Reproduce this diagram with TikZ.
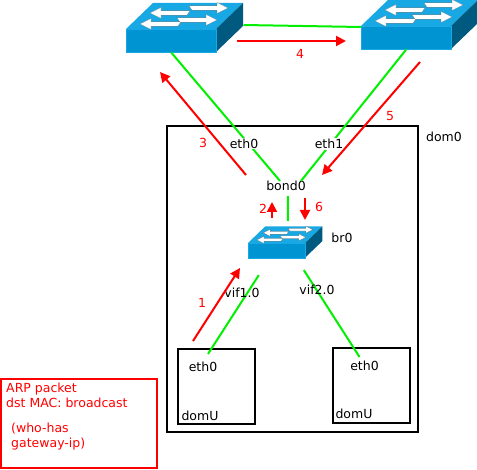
\documentclass[tikz,border=0pt]{standalone}
\usepackage{fontspec}
\setmainfont{DejaVu Sans}
\usetikzlibrary{arrows.meta,positioning,calc}

\definecolor{switchfront}{HTML}{0095D2}
\definecolor{switchtop}{HTML}{18A8E4}
\definecolor{switchside}{HTML}{005A80}
\definecolor{linkgreen}{HTML}{00F000}

\tikzset{
  lbl/.style={font=\fontsize{12.5}{15.5}\selectfont,inner sep=1pt},
  redlbl/.style={lbl,text=red},
  ethlbl/.style={lbl,fill=white},
  dombox/.style={rectangle,draw=black,line width=2pt,inner sep=0pt},
  link/.style={draw=linkgreen,line width=2pt},
  flow/.style={draw=red,line width=2pt,-{Triangle[length=10pt,width=10pt]}}
}

% name, x and y of the top left front corner, scale
\newcommand{\netswitch}[4]{
  \begin{scope}[shift={(#2,#3)},scale=#4]
    \fill[switchtop] (0,0) -- (27,-26) -- (117,-26) -- (90,0) -- cycle;
    \fill[switchside] (90,0) -- (117,-26) -- (117,-3) -- (90,23) -- cycle;
    \node[rectangle,fill=switchfront,draw=switchtop,line width=0.5pt,inner sep=0pt,minimum width=#4*90pt,minimum height=#4*23pt,anchor=north west] (#1) at (0,0) {};
    % white arrows on the top face
    \foreach \tipx/\endx/\rowy in {24/61/-16, 102/66/-21, 14/52/-5, 91/54/-9} {
      \pgfmathsetmacro{\dirx}{\endx>\tipx ? 1 : -1}
      \fill[white,draw=black!60,line width=0.2pt] (\tipx,\rowy) -- (\tipx+\dirx*11,\rowy-5.5) -- (\tipx+\dirx*11,\rowy-2.2) -- (\endx+\dirx*3,\rowy-2.2) -- (\endx,\rowy+2.2) -- (\tipx+\dirx*11,\rowy+2.2) -- (\tipx+\dirx*11,\rowy+5.5) -- cycle;
    }
  \end{scope}
}

\begin{document}
\begin{tikzpicture}[x=1pt,y=-1pt]
\useasboundingbox (0,0) rectangle (477,470);

% Switches
\netswitch{swleft}{126}{29}{1}
\netswitch{swright}{361}{26}{1}

% Boxes
\node[dombox,minimum width=251pt,minimum height=306pt] (dom0) at (292.5,279) {};
\node[dombox,minimum width=77pt,minimum height=75pt] (domUa) at (216,386.5) {};
\node[dombox,minimum width=77pt,minimum height=75pt] (domUb) at (371.5,385.5) {};
\node[rectangle,draw=red,line width=2pt,minimum width=156pt,minimum height=89pt] (packet) at (79,423.5) {};

\netswitch{brzero}{248}{243}{0.635}

% Labels
\node[lbl] (bondzero) at (286,186) {bond0};
\node[lbl] (domzero) at (444,137) {dom0};
\node[lbl] (brlabel) at (342,238) {br0};
\node[lbl] (domUlabela) at (200,416) {domU};
\node[lbl] (domUlabelb) at (354,414) {domU};
\node[lbl] (ethzeroa) at (203,367) {eth0};
\node[lbl] (ethzerob) at (364.5,366) {eth0};

% Green links
\draw[link] ([xshift=27pt,yshift=4pt]swleft.north east) -- ([yshift=-1pt]swright.north west);
\draw[link] (swleft.south) -- ([xshift=-6pt,yshift=-1pt]bondzero.north);
\draw[link] (swright.south) -- ([xshift=15pt,yshift=-1pt]bondzero.north);
\draw[link] ([xshift=2pt,yshift=-4pt]bondzero.south) -- ([xshift=11pt,yshift=22pt]brzero.north);
\draw[link] ([xshift=-18pt,yshift=-17pt]brzero.south) -- ([xshift=5pt,yshift=7pt]ethzeroa.north);
\draw[link] ([xshift=27pt,yshift=-12pt]brzero.south) -- ([xshift=-5pt,yshift=3pt]ethzerob.north);

% Labels on the links
\node[ethlbl] (ethzeroc) at (244,143.5) {eth0};
\node[ethlbl] (ethone) at (329,144) {eth1};
\node[lbl] (vifone) at (242,293) {vif1.0};
\node[lbl] (viftwo) at (317,290) {vif2.0};

% Packet path
\coordinate (pa) at (193,341);
\coordinate (pb) at (240,268);
\coordinate (pc) at (272,218);
\coordinate (pd) at (272,202);
\coordinate (pe) at (246,175);
\coordinate (pf) at (160,72);
\coordinate (pg) at (237,41);
\coordinate (ph) at (346,41);
\coordinate (pi) at (420,62);
\coordinate (pj) at (322,175);
\coordinate (pk) at (305,198);
\coordinate (pl) at (305,220);
\draw[flow] (pa) -- (pb);
\draw[flow] (pc) -- (pd);
\draw[flow] (pe) -- (pf);
\draw[flow] (pg) -- (ph);
\draw[flow] (pi) -- (pj);
\draw[flow] (pk) -- (pl);

\node[redlbl] (stepa) at (202,303) {1};
\node[redlbl] (stepb) at (263,209) {2};
\node[redlbl] (stepc) at (203,143) {3};
\node[redlbl] (stepd) at (300,54) {4};
\node[redlbl] (stepe) at (390,116) {5};
\node[redlbl] (stepf) at (319,207) {6};

\node[redlbl,align=left,anchor=north west] (packettext) at (5,381.5) {ARP packet\\dst MAC: broadcast\\[9pt]\hspace*{5pt}(who-has\\\hspace*{5pt}gateway-ip)};
\end{tikzpicture}
\end{document}
